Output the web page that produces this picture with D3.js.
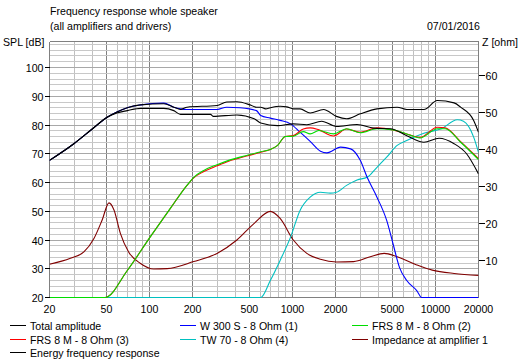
<!DOCTYPE html>
<html>
<head>
<meta charset="utf-8">
<script src="https://cdn.jsdelivr.net/npm/d3@7"></script>
<style>
  html, body { margin: 0; padding: 0; background: #ffffff; }
  svg { display: block; }
  text { font-family: "Liberation Sans", Arial, sans-serif; font-size: 10.6px; fill: #000; }
</style>
</head>
<body>
<svg id="chart" width="525" height="360"></svg>
<script>
// ---------------- data ----------------
const xTickLabels = [20, 50, 100, 200, 500, 1000, 2000, 5000, 10000, 20000];
const splTicks = [20, 30, 40, 50, 60, 70, 80, 90, 100];
const zTicks = [10, 20, 30, 40, 50, 60];

const totalF  = [20, 29.6, 40, 50.6, 59.2, 70, 86.6, 126, 148, 165, 183, 297, 347, 409, 505, 560, 600, 650, 700, 820, 911, 1014, 1130, 1330, 1650, 2030, 2390, 2980, 3900, 5400, 6300, 8300, 10300, 13500, 15000, 18500, 20000];
const totalDb = [67.7, 73.5, 78.7, 82.7, 84.5, 86, 87, 87.4, 86.2, 85.4, 86.2, 86.8, 88, 88.1, 87, 86.2, 86.2, 85.6, 86, 86.5, 86.3, 85.6, 85.6, 84.2, 85.4, 83, 82.2, 83.9, 85.6, 86.2, 85.4, 85.4, 88.5, 87.7, 86.2, 81.6, 77.5];

const energyF  = [20, 29.6, 40, 50.6, 59.2, 70, 87, 126, 148, 165, 267, 280, 409, 540, 600, 787, 1014, 1260, 1600, 2030, 2830, 3700, 4850, 6300, 8300, 10600, 13500, 16500, 20000];
const energyDb = [67.7, 73.5, 78.7, 82.7, 84.2, 85, 85.8, 85.8, 85, 83.7, 83.7, 83, 83.5, 82.2, 80.7, 79.8, 80.4, 80.1, 81.3, 79.5, 80.2, 78.9, 78.7, 76.3, 74, 75.4, 73.5, 70, 63];

const wooferF  = [20, 29.6, 40, 50.6, 59.2, 70, 87, 105, 126, 148, 165, 183, 297, 347, 430, 560, 600, 700, 820, 970, 1130, 1330, 1570, 1740, 2170, 2550, 2980, 3330, 3900, 4560, 5050, 5600, 6300, 7400, 8000, 20000];
const wooferDb = [67.7, 73.5, 78.7, 82.7, 84.5, 86, 87, 87.5, 87.6, 86.2, 85.6, 85.4, 85.4, 86.2, 86, 85, 83.3, 82.4, 81.6, 80.4, 77.5, 74.3, 70.9, 70.3, 72.3, 71.7, 67.7, 61.8, 54.9, 46.8, 38.7, 30.5, 25.9, 22.4, 20, 20];

const frs2F  = [20, 49, 70, 101, 140, 183, 204, 240, 297, 358, 478, 600, 700, 787, 890, 1014, 1190, 1330, 1530, 1940, 2390, 2980, 3900, 5050, 6300, 7800, 10300, 11700, 15000, 20000];
const frs2Db = [20, 20, 29.4, 41, 51, 59, 61.8, 64.2, 66.2, 67.7, 69.4, 70.7, 71.5, 72.9, 76, 76.1, 77.7, 76.9, 78.1, 76.9, 78.7, 77.3, 78.7, 78.3, 76.9, 75.5, 78.7, 78.7, 74, 68];

const frs3F  = [20, 49, 70, 101, 140, 183, 204, 240, 297, 358, 478, 600, 700, 787, 890, 1014, 1190, 1330, 1530, 1940, 2390, 2980, 3900, 5050, 6300, 7800, 10300, 11700, 15000, 20000];
const frs3Db = [20, 20, 29.4, 41, 51, 59, 61.6, 63.8, 65.8, 67.4, 69.2, 70.5, 71.5, 72.9, 76, 76.3, 78.6, 79, 78.3, 76.2, 78.6, 77.5, 79, 78.3, 76.9, 75.7, 79.2, 79, 74.2, 68.3];

const tweeterF  = [20, 600, 700, 820, 970, 1130, 1330, 1570, 1840, 2030, 2390, 2830, 3330, 3900, 4560, 5400, 6300, 8300, 11000, 14200, 15700, 18500, 20000];
const tweeterDb = [20, 20, 25.9, 32.9, 41, 50.3, 54.9, 56.6, 56.3, 56.6, 59, 60.9, 61.8, 65.3, 68.8, 72.9, 74.6, 77.1, 78.7, 81.8, 81.3, 75.8, 70.5];

const impF = [20, 28, 34.8, 40.9, 46.7, 52.1, 56.5, 62.6, 71.5, 86.6, 107, 133, 204, 297, 409, 540, 700, 820, 1014, 1260, 1570, 2030, 2680, 3500, 4380, 5400, 7400, 9500, 13500, 20000];
const impZ = [9.1, 10.7, 12.4, 16, 21, 25.6, 23.7, 17.4, 12.4, 9.3, 7.8, 7.9, 9.8, 12, 15.6, 20.1, 23.3, 21.4, 15.6, 12, 10.4, 9.7, 9.8, 11.1, 12, 11.1, 8.9, 7.5, 6.6, 6.1];

const legendLabels = ["Total amplitude", "W 300 S - 8 Ohm (1)", "FRS 8 M - 8 Ohm (2)",
                      "FRS 8 M - 8 Ohm (3)", "TW 70 - 8 Ohm (4)", "Impedance at amplifier 1",
                      "Energy frequency response"];

// ---------------- layout ----------------
const L = 49.5, R = 478.5, T = 41.5, B = 297.5;
const svg = d3.select("#chart");

const x = d3.scaleLog().domain([20, 20000]).range([L, R]);
const y = d3.scaleLinear().domain([20, 100]).range([B, 67.5]);
const yz = d3.scaleLinear().domain([0, 60]).range([298, 75]);

const colors = {
  total: "#000000", woofer: "#0000ff", frs2: "#00dd00", frs3: "#ff0000",
  tweeter: "#00c0c0", imp: "#800000", energy: "#000000"
};

// grid: vertical
const vLines = [];
[10, 100, 1000, 10000].forEach(d => { for (let k = 1; k <= 9; k++) { const f = d * k; if (f >= 20 && f <= 20000) vLines.push(f); } });
vLines.push(20000);
const g = svg.append("g");
g.selectAll("line.v").data(vLines).enter().append("line")
  .attr("x1", d => Math.round(x(d) - 0.5) + 0.5).attr("x2", d => Math.round(x(d) - 0.5) + 0.5)
  .attr("y1", T).attr("y2", B)
  .attr("stroke", d => xTickLabels.includes(d) ? "#808080" : "#c0c0c0")
  .attr("stroke-width", 1).attr("shape-rendering", "crispEdges");

// grid: horizontal every 2 dB
const hLines = d3.range(22, 109, 2);
g.selectAll("line.h").data(hLines).enter().append("line")
  .attr("x1", L).attr("x2", R)
  .attr("y1", d => Math.round(y(d) - 0.5) + 0.5).attr("y2", d => Math.round(y(d) - 0.5) + 0.5)
  .attr("stroke", d => d % 10 === 0 ? "#a8a8a8" : "#c8c8c8")
  .attr("stroke-width", 1).attr("shape-rendering", "crispEdges");

// frame
[[L, T, R, T], [L, T, L, B], [R, T, R, B], [L, B, R, B]].forEach(s => {
  svg.append("line").attr("x1", s[0]).attr("y1", s[1]).attr("x2", s[2]).attr("y2", s[3])
    .attr("stroke", "#808080").attr("shape-rendering", "crispEdges");
});

// clip
svg.append("clipPath").attr("id", "clip").append("rect")
  .attr("x", L).attr("y", T - 1).attr("width", R - L).attr("height", B - T + 1.5);

const lineSpl = d3.line().x(d => x(d[0])).y(d => y(d[1])).curve(d3.curveMonotoneX);
const lineZ = d3.line().x(d => x(d[0])).y(d => yz(d[1])).curve(d3.curveMonotoneX);
const zip = (a, b) => a.map((v, i) => [v, b[i]]);

const curves = svg.append("g").attr("clip-path", "url(#clip)");
function draw(path, color) {
  curves.append("path").attr("d", path).attr("fill", "none").attr("stroke", color).attr("stroke-width", 1.1);
}
draw(lineZ(zip(impF, impZ)), colors.imp);
draw(lineSpl(zip(tweeterF, tweeterDb)), colors.tweeter);
draw(lineSpl(zip(wooferF, wooferDb)), colors.woofer);
draw(lineSpl(zip(frs3F, frs3Db)), colors.frs3);
draw(lineSpl(zip(frs2F, frs2Db)), colors.frs2);
draw(lineSpl(zip(energyF, energyDb)), colors.energy);
draw(lineSpl(zip(totalF, totalDb)), colors.total);

// left axis
const la = svg.append("g");
splTicks.forEach(v => {
  const yy = Math.round(y(v) - 0.5) + 0.5;
  la.append("line").attr("x1", 45).attr("x2", L).attr("y1", yy).attr("y2", yy).attr("stroke", "#000").attr("shape-rendering", "crispEdges");
  la.append("text").attr("x", 43.5).attr("y", yy + 4).attr("text-anchor", "end").text(v);
});
// right axis
zTicks.forEach(v => {
  const yy = Math.round(yz(v) - 0.5) + 0.5;
  la.append("line").attr("x1", R).attr("x2", 485).attr("y1", yy).attr("y2", yy).attr("stroke", "#000").attr("shape-rendering", "crispEdges");
  la.append("text").attr("x", 485.5).attr("y", yy + 4).text(v);
});
// x axis labels
xTickLabels.forEach(v => {
  la.append("text").attr("x", x(v)).attr("y", 313).attr("text-anchor", "middle").text(v);
});

// titles
svg.append("text").attr("x", 50).attr("y", 15).text("Frequency response whole speaker");
svg.append("text").attr("x", 50).attr("y", 30).text("(all amplifiers and drivers)");
svg.append("text").attr("x", 480).attr("y", 30).attr("text-anchor", "end").text("07/01/2016");
svg.append("text").attr("x", 3).attr("y", 46).text("SPL [dB]");
svg.append("text").attr("x", 482).attr("y", 46).text("Z [ohm]");

// legend
const legendColors = [colors.total, colors.woofer, colors.frs2, colors.frs3, colors.tweeter, colors.imp, colors.energy];
const colX = [10, 180, 352];
const rowY = [325, 339, 352];
legendLabels.forEach((lab, i) => {
  const cx = colX[i % 3], cy = rowY[Math.floor(i / 3)];
  svg.append("rect").attr("x", cx).attr("y", cy).attr("width", 16).attr("height", 1)
    .attr("fill", legendColors[i]);
  svg.append("text").attr("x", cx + 20).attr("y", cy + 4.5).text(lab);
});
</script>
</body>
</html>
